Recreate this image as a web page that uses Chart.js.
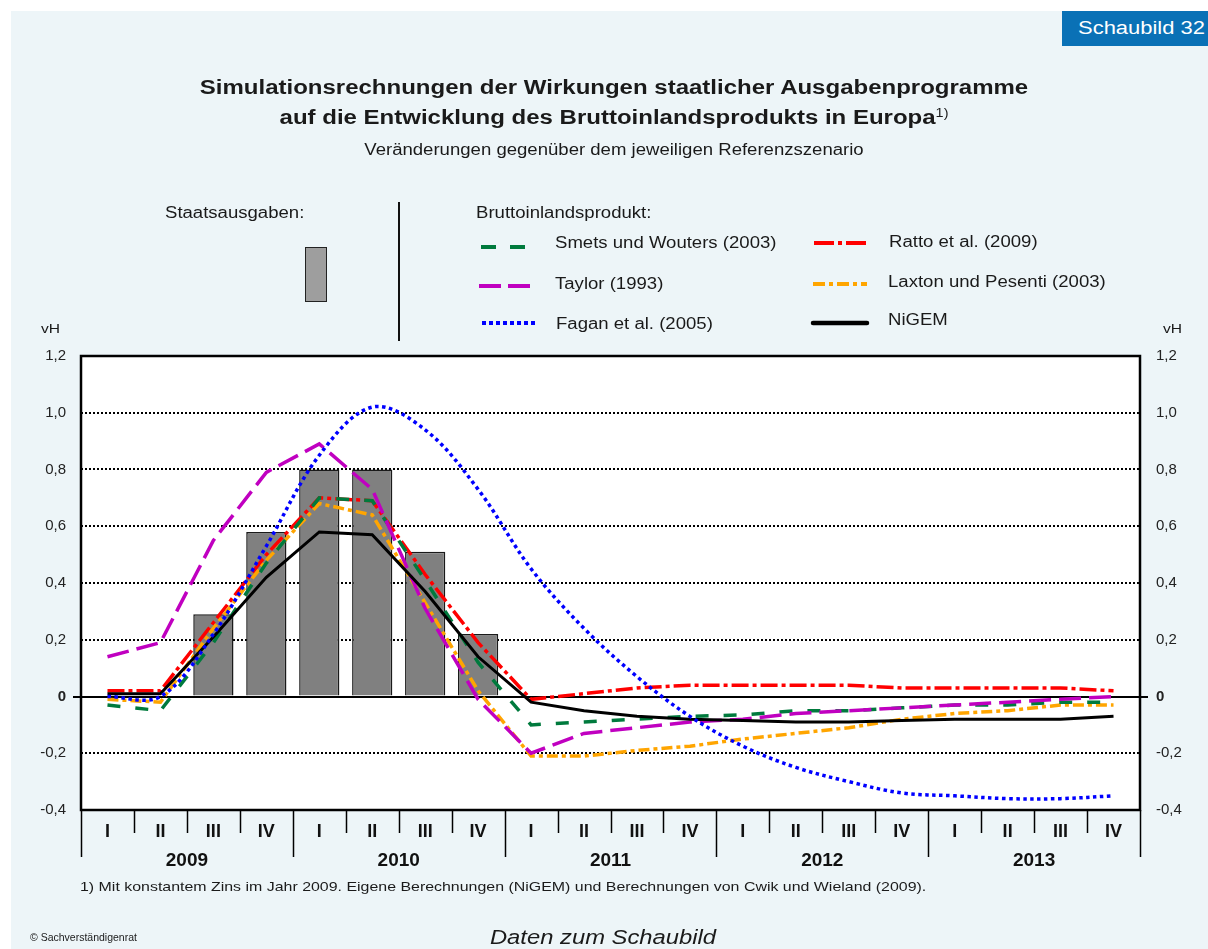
<!DOCTYPE html>
<html lang="de">
<head>
<meta charset="utf-8">
<title>Schaubild 32</title>
<script src="https://cdn.jsdelivr.net/npm/chart.js@4/dist/chart.umd.min.js"></script>
<style>
  body { margin: 0; font-family: "Liberation Sans", Arial, sans-serif; color: #1a1a1a; }
  #page { position: relative; width: 1208px; height: 949px; background: #fff; overflow: hidden; }
  #panel { position: absolute; left: 11px; top: 11px; right: 0; bottom: 0; background: #edf5f8; }
  #chart { position: absolute; left: 0; top: 0; }
  .t { position: absolute; white-space: nowrap; transform-origin: 0 50%; }
  .wide { transform: scaleX(1.16); }
  #badge { left: 1062px; top: 11px; width: 146px; height: 35px; background: #0a71b6; }
  #badgeText { left: 1078px; top: 11px; color: #fff; font-size: 18px; line-height: 35px; transform: scaleX(1.22); }
  #title { left: 14px; width: 1200px; top: 72px; text-align: center; font-weight: bold; font-size: 20px; line-height: 30px;
           transform-origin: 50% 50%; transform: scaleX(1.2); }
  #title sup { font-weight: normal; font-size: 12px; vertical-align: 7px; line-height: 0; }
  #subtitle { left: 14px; width: 1200px; top: 140px; text-align: center; font-size: 16px; line-height: 20px;
              transform-origin: 50% 50%; transform: scaleX(1.16); }
  .leg { font-size: 16px; line-height: 20px; }
  .unit { font-size: 13px; line-height: 16px; transform: scaleX(1.2); }
  #note { left: 80px; top: 878px; font-size: 13px; line-height: 18px; transform: scaleX(1.225); }
  #copy { left: 30px; top: 930px; font-size: 10.5px; line-height: 14px; }
  #daten { left: 0; width: 1206px; top: 924px; text-align: center; font-size: 20px; font-style: italic; line-height: 26px;
           transform-origin: 50% 50%; transform: scaleX(1.19); }
</style>
</head>
<body>
<div id="page">
  <div id="panel"></div>
  <canvas id="chart" width="1208" height="949"></canvas>

  <div class="t" id="badge"></div>
  <div class="t" id="badgeText">Schaubild 32</div>
  <div class="t" id="title">Simulationsrechnungen der Wirkungen staatlicher Ausgabenprogramme<br>auf die Entwicklung des Bruttoinlandsprodukts in Europa<sup>1)</sup></div>
  <div class="t" id="subtitle">Veränderungen gegenüber dem jeweiligen Referenzszenario</div>

  <!-- legend -->
  <div class="t leg wide" style="left:165px; top:203px">Staatsausgaben:</div>
  <div class="t" style="left:305px; top:247px; width:20px; height:53px; background:#9e9e9e; border:1.5px solid #222"></div>
  <div class="t" style="left:398px; top:202px; width:1.5px; height:139px; background:#111"></div>
  <div class="t leg wide" style="left:476px; top:203px">Bruttoinlandsprodukt:</div>

  <svg class="t" style="left:479px; top:239px" width="60" height="16"><line x1="2" y1="8" x2="46" y2="8" stroke="#007a3d" stroke-width="4" stroke-dasharray="15 14"/></svg>
  <div class="t leg wide" style="left:555px; top:233px">Smets und Wouters (2003)</div>
  <svg class="t" style="left:477px; top:278px" width="60" height="16"><line x1="2" y1="8" x2="54" y2="8" stroke="#c000c0" stroke-width="4" stroke-dasharray="22 7"/></svg>
  <div class="t leg wide" style="left:555px; top:274px">Taylor (1993)</div>
  <svg class="t" style="left:480px; top:315px" width="60" height="16"><line x1="2" y1="8" x2="56" y2="8" stroke="#0000ff" stroke-width="4" stroke-dasharray="4 3"/></svg>
  <div class="t leg wide" style="left:556px; top:314px">Fagan et al. (2005)</div>

  <svg class="t" style="left:812px; top:235px" width="60" height="16"><line x1="2" y1="8" x2="55" y2="8" stroke="#ff0000" stroke-width="4" stroke-dasharray="20 4 4 4"/></svg>
  <div class="t leg wide" style="left:889px; top:232px">Ratto et al. (2009)</div>
  <svg class="t" style="left:811px; top:276px" width="60" height="16"><line x1="2" y1="8" x2="56" y2="8" stroke="#ffa500" stroke-width="4" stroke-dasharray="12 4 4 4"/></svg>
  <div class="t leg wide" style="left:888px; top:272px">Laxton und Pesenti (2003)</div>
  <svg class="t" style="left:810px; top:315px" width="60" height="16"><line x1="3" y1="8" x2="57" y2="8" stroke="#000" stroke-width="4.5" stroke-linecap="round"/></svg>
  <div class="t leg wide" style="left:888px; top:310px">NiGEM</div>

  <div class="t unit" style="left:41px; top:321px">vH</div>
  <div class="t unit" style="left:1163px; top:321px">vH</div>

  <div class="t" id="note">1) Mit konstantem Zins im Jahr 2009. Eigene Berechnungen (NiGEM) und Berechnungen von Cwik und Wieland (2009).</div>
  <div class="t" id="copy">© Sachverständigenrat</div>
  <div class="t" id="daten">Daten zum Schaubild</div>
</div>

<script>
// Quarterly simulation results 2009 Q1 .. 2013 Q4, deviation from reference scenario in vH
const quarterLabels = ['I', 'II', 'III', 'IV', 'I', 'II', 'III', 'IV', 'I', 'II', 'III', 'IV',
                       'I', 'II', 'III', 'IV', 'I', 'II', 'III', 'IV'];
const years = ['2009', '2010', '2011', '2012', '2013'];

const staatsausgaben = [null, null, 0.29, 0.58, 0.80, 0.80, 0.51, 0.22, null, null,
                        null, null, null, null, null, null, null, null, null, null];

const smetsWouters = [-0.03, -0.05, 0.19, 0.47, 0.70, 0.69, 0.41, 0.12, -0.10, -0.09,
                      -0.08, -0.07, -0.065, -0.05, -0.05, -0.04, -0.03, -0.03, -0.02, -0.02];
const taylor = [0.14, 0.19, 0.55, 0.79, 0.89, 0.73, 0.31, -0.01, -0.20, -0.13,
                -0.11, -0.09, -0.08, -0.06, -0.05, -0.04, -0.03, -0.02, -0.01, 0.00];
const fagan = [0.00, 0.00, 0.22, 0.53, 0.85, 1.02, 0.94, 0.73, 0.45, 0.24,
               0.07, -0.07, -0.175, -0.25, -0.30, -0.34, -0.35, -0.36, -0.36, -0.35];
const ratto = [0.02, 0.02, 0.26, 0.50, 0.70, 0.69, 0.43, 0.19, -0.01, 0.01,
               0.03, 0.04, 0.04, 0.04, 0.04, 0.03, 0.03, 0.03, 0.03, 0.02];
const laxtonPesenti = [-0.01, -0.02, 0.24, 0.48, 0.68, 0.64, 0.33, 0.02, -0.21, -0.21,
                       -0.19, -0.175, -0.15, -0.13, -0.11, -0.08, -0.06, -0.05, -0.03, -0.03];
const nigem = [0.01, 0.01, 0.21, 0.42, 0.58, 0.57, 0.37, 0.14, -0.02, -0.05,
               -0.07, -0.08, -0.085, -0.09, -0.09, -0.085, -0.08, -0.08, -0.08, -0.07];

const FONT = '"Liberation Sans", Arial, sans-serif';

function lineSet(label, data, color, dash, order, extra) {
  return Object.assign({
    type: 'line',
    label: label,
    data: data,
    borderColor: color,
    borderWidth: 3.5,
    borderDash: dash,
    borderCapStyle: 'butt',
    pointRadius: 0,
    pointHoverRadius: 0,
    fill: false,
    tension: 0,
    order: order
  }, extra || {});
}

function fmtTick(v) {
  if (Math.abs(v) < 1e-9) return '0';
  return v.toFixed(1).replace('.', ',');
}

function tickFont(ctx) {
  const zero = ctx.tick && Math.abs(ctx.tick.value) < 1e-9;
  return { family: FONT, size: 15, weight: zero ? 'bold' : 'normal' };
}

// white plot background, solid zero line, frame and quarter/year separators
const framePlugin = {
  id: 'frame',
  beforeDraw(chart) {
    const a = chart.chartArea, ctx = chart.ctx;
    ctx.save();
    ctx.fillStyle = '#fff';
    ctx.fillRect(a.left, a.top, a.right - a.left, a.bottom - a.top);
    ctx.restore();
  },
  beforeDatasetsDraw(chart) {
    const a = chart.chartArea, ctx = chart.ctx;
    const y0 = Math.round(chart.scales.y.getPixelForValue(0));
    ctx.save();
    ctx.strokeStyle = '#000';
    ctx.lineWidth = 2;
    ctx.beginPath();
    ctx.moveTo(a.left - 8, y0);
    ctx.lineTo(a.right + 8, y0);
    ctx.stroke();
    ctx.restore();
  },
  afterDatasetsDraw(chart) {
    const a = chart.chartArea, ctx = chart.ctx, xs = chart.scales.x;
    ctx.save();
    ctx.strokeStyle = '#000';
    ctx.lineWidth = 2.5;
    ctx.strokeRect(a.left, a.top, a.right - a.left, a.bottom - a.top);
    ctx.lineWidth = 1.5;
    for (let i = 0; i <= quarterLabels.length; i++) {
      const x = Math.round(xs.getPixelForValue(i - 0.5)) + 0.5;
      const len = i % 4 === 0 ? 47 : 23;
      ctx.beginPath();
      ctx.moveTo(x, a.bottom);
      ctx.lineTo(x, a.bottom + len);
      ctx.stroke();
    }
    ctx.restore();
  }
};

const chart = new Chart(document.getElementById('chart'), {
  type: 'bar',
  data: {
    labels: quarterLabels,
    datasets: [
      lineSet('Fagan et al. (2005)', fagan, '#0000ff', [3.5, 3.5], 1, { tension: 0.35 }),
      lineSet('NiGEM', nigem, '#000000', [], 2, { borderWidth: 3 }),
      lineSet('Taylor (1993)', taylor, '#c000c0', [22, 8], 3),
      lineSet('Smets und Wouters (2003)', smetsWouters, '#007a3d', [13, 15], 4),
      lineSet('Laxton und Pesenti (2003)', laxtonPesenti, '#ffa500', [11, 4, 4, 4], 5),
      lineSet('Ratto et al. (2009)', ratto, '#ff0000', [17, 4, 4, 4], 6),
      {
        type: 'bar',
        label: 'Staatsausgaben',
        data: staatsausgaben,
        backgroundColor: '#808080',
        borderColor: '#1a1a1a',
        borderWidth: 1.5,
        barPercentage: 0.76,
        categoryPercentage: 1,
        order: 10
      }
    ]
  },
  options: {
    responsive: false,
    animation: false,
    events: [],
    layout: { padding: { top: 356, left: 0, right: 0, bottom: 73 } },
    plugins: { legend: { display: false }, title: { display: false }, tooltip: { enabled: false } },
    scales: {
      x: {
        weight: 0,
        grid: { display: false, drawTicks: false },
        border: { display: false },
        ticks: { color: '#111', padding: 11, maxRotation: 0, autoSkip: false,
                 font: { family: FONT, size: 18, weight: 'bold' } },
        afterFit(s) { s.height = 36; }
      },
      x2: {
        type: 'category',
        labels: years,
        position: 'bottom',
        weight: 1,
        offset: true,
        grid: { display: false, drawTicks: false },
        border: { display: false },
        ticks: { color: '#111', padding: 3, maxRotation: 0, autoSkip: false,
                 font: { family: FONT, size: 19, weight: 'bold' } },
        afterFit(s) { s.height = 30; }
      },
      y: {
        position: 'left',
        min: -0.4,
        max: 1.2,
        ticks: { stepSize: 0.2, padding: 15, color: '#222', font: tickFont, callback: fmtTick },
        grid: { color: '#000', lineWidth: 2, drawTicks: false },
        border: { display: false, dash: [2, 2] },
        afterFit(s) { s.width = 81; }
      },
      y2: {
        position: 'right',
        min: -0.4,
        max: 1.2,
        ticks: { stepSize: 0.2, padding: 16, color: '#222', font: tickFont, callback: fmtTick },
        grid: { drawOnChartArea: false, drawTicks: false },
        border: { display: false },
        afterFit(s) { s.width = 68; }
      }
    }
  },
  plugins: [framePlugin]
});
</script>
</body>
</html>
